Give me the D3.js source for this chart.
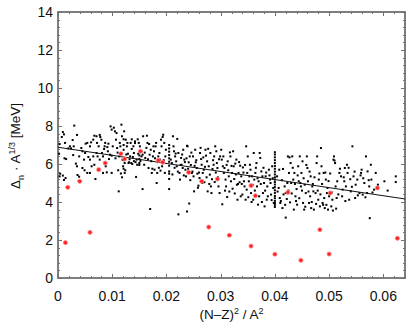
<!DOCTYPE html>
<html><head><meta charset="utf-8">
<script src="https://cdn.jsdelivr.net/npm/d3@7"></script>
<style>body{margin:0;background:#fff}svg{display:block}text{font-family:"Liberation Sans",Arial,sans-serif}</style>
</head><body><svg id="c" width="415" height="324"></svg>
<script>
const xTicks=[0,0.01,0.02,0.03,0.04,0.05,0.06];
const xTickLabels=["0","0.01","0.02","0.03","0.04","0.05","0.06"];
const yTicks=[0,2,4,6,8,10,12,14];
const yTickLabels=["0","2","4","6","8","10","12","14"];
const fitX=[0,0.064];
const fitY=[6.88,4.16];
const redStars=[[0.00136,1.86],[0.0018,4.77],[0.004,5.09],[0.0059,2.4],[0.0075,5.7],[0.0087,6.05],[0.0116,6.54],[0.0123,6.26],[0.0152,6.67],[0.0185,6.19],[0.0193,6.09],[0.0241,5.56],[0.0265,5.09],[0.0278,2.68],[0.0294,5.21],[0.0316,2.25],[0.0356,4.86],[0.0356,1.68],[0.0364,4.33],[0.04,1.25],[0.0424,4.51],[0.0448,0.93],[0.0483,2.54],[0.05,1.26],[0.0502,4.47],[0.0589,4.74],[0.0626,2.09]];
const nucleiA=[[0.0002,6.54],[0.0003,7.05],[0.0007,7.42],[0.0009,7.68],[0.0011,7.56],[0.0013,7.11],[0.0004,5.49],[0.0003,5.35],[0.0009,5.39],[0.0011,5.16],[0.0014,5.26],[0.0015,6.26],[0.0012,6.30],[0.0019,6.82],[0.0022,6.93],[0.0024,6.82],[0.0027,7.26],[0.0030,8.02],[0.0029,6.93],[0.0028,6.47],[0.0033,6.02],[0.0035,5.88],[0.0036,5.42],[0.0039,5.33],[0.0035,7.53],[0.0039,6.40],[0.0043,6.84],[0.0045,6.67],[0.0048,6.23],[0.0049,5.67],[0.0051,7.07],[0.0054,7.11],[0.0056,6.37],[0.0059,6.93],[0.0061,7.14],[0.0062,5.88],[0.0065,7.28],[0.0067,7.49],[0.0069,5.21],[0.0071,7.46],[0.0072,7.11],[0.0073,6.40],[0.0075,6.93],[0.0077,7.53],[0.0078,7.42],[0.0080,7.28],[0.0081,6.58],[0.0083,6.40],[0.0085,6.79],[0.0086,6.93],[0.0087,7.11],[0.0088,5.88],[0.0090,5.56],[0.0091,6.89],[0.0092,6.67],[0.0093,7.07],[0.0094,6.26],[0.0096,6.49],[0.0097,7.98],[0.0099,7.81],[0.0099,5.53],[0.0101,6.93],[0.0099,6.44],[0.0071,6.58],[0.0054,5.53],[0.0059,6.23],[0.0065,6.40],[0.0045,5.79],[0.0050,6.58],[0.0077,6.23],[0.0083,5.53],[0.0059,5.53],[0.0067,5.96]];
const nucleiB=[[0.0103,7.91],[0.0105,7.72],[0.0107,7.28],[0.0108,7.63],[0.0109,6.84],[0.0111,5.67],[0.0112,4.56],[0.0113,6.40],[0.0114,7.11],[0.0115,6.93],[0.0117,8.07],[0.0118,7.46],[0.0119,6.23],[0.0120,5.88],[0.0122,7.72],[0.0123,5.53],[0.0124,5.67],[0.0125,7.28],[0.0127,6.93],[0.0128,7.11],[0.0129,6.54],[0.0130,6.05],[0.0131,6.09],[0.0133,6.40],[0.0134,7.11],[0.0135,6.05],[0.0136,6.79],[0.0138,6.37],[0.0139,6.93],[0.0140,6.58],[0.0142,7.19],[0.0144,5.32],[0.0145,6.23],[0.0146,5.96],[0.0148,6.54],[0.0149,7.11],[0.0150,6.26],[0.0151,6.93],[0.0152,6.16],[0.0154,6.40],[0.0154,6.67],[0.0156,6.49],[0.0157,7.46],[0.0156,4.68],[0.0159,5.96],[0.0161,6.32],[0.0164,7.49],[0.0165,7.11],[0.0167,5.79],[0.0169,6.49],[0.0170,3.63],[0.0171,6.75],[0.0173,5.53],[0.0175,6.40],[0.0176,6.93],[0.0177,6.67],[0.0178,5.70],[0.0180,6.93],[0.0181,7.11],[0.0182,5.00],[0.0183,5.53],[0.0185,6.40],[0.0187,6.58],[0.0188,6.23],[0.0190,7.28],[0.0191,6.93],[0.0192,5.88],[0.0193,7.42],[0.0194,7.54],[0.0196,7.11],[0.0197,5.53],[0.0198,6.40],[0.0199,6.75],[0.0121,7.30],[0.0121,7.0],[0.0121,6.75],[0.0121,6.2],[0.0121,5.75],[0.0123,6.05],[0.0150,6.45],[0.0150,6.05],[0.0150,5.95],[0.0143,6.10],[0.0140,6.15],[0.0137,6.0],[0.0132,6.25],[0.0126,6.5],[0.0160,6.6],[0.0163,6.85],[0.0166,6.25],[0.0168,7.05],[0.0172,6.15],[0.0174,5.75],[0.0179,6.3],[0.0184,6.1],[0.0186,5.8],[0.0189,5.65],[0.0195,6.2],[0.0110,6.6],[0.0106,6.3],[0.0116,5.5],[0.0118,5.3],[0.0147,7.3],[0.0142,7.1],[0.0136,7.3],[0.0205,7.00],[0.0205,6.82],[0.0205,6.65],[0.0205,6.47],[0.0205,6.30],[0.0205,6.12],[0.0205,5.91],[0.0205,5.61],[0.0205,5.49],[0.0205,5.21],[0.0205,4.68]];
const nucleiC=[[0.0208,6.23],[0.0210,6.05],[0.0212,7.46],[0.0213,6.93],[0.0214,6.67],[0.0216,6.40],[0.0218,6.14],[0.0219,5.88],[0.0220,7.32],[0.0222,6.58],[0.0224,5.53],[0.0225,5.18],[0.0227,6.32],[0.0228,5.96],[0.0230,5.79],[0.0231,6.75],[0.0233,6.23],[0.0235,5.70],[0.0236,5.35],[0.0238,6.96],[0.0239,6.93],[0.0241,6.09],[0.0243,6.40],[0.0245,5.95],[0.0247,5.53],[0.0249,6.40],[0.0250,5.35],[0.0251,4.56],[0.0253,6.75],[0.0254,6.09],[0.0256,5.79],[0.0257,5.49],[0.0259,4.86],[0.0261,5.26],[0.0262,6.58],[0.0264,6.26],[0.0265,5.96],[0.0267,5.53],[0.0269,5.70],[0.0270,5.04],[0.0272,6.75],[0.0273,6.44],[0.0275,6.14],[0.0276,4.56],[0.0278,5.88],[0.0280,5.44],[0.0281,6.58],[0.0282,4.82],[0.0283,4.47],[0.0285,5.74],[0.0287,5.96],[0.0288,6.40],[0.0290,6.93],[0.0292,6.67],[0.0293,6.05],[0.0294,5.79],[0.0296,4.82],[0.0298,4.47],[0.0299,6.40],[0.0222,3.35],[0.0238,3.50],[0.0242,3.92],[0.0211,5.45],[0.0215,5.80],[0.0217,6.55],[0.0221,5.60],[0.0226,5.95],[0.0229,6.50],[0.0232,5.40],[0.0234,6.10],[0.0237,6.30],[0.0240,5.75],[0.0244,5.15],[0.0246,6.60],[0.0248,5.60],[0.0252,5.90],[0.0255,6.20],[0.0258,4.75],[0.0260,5.55],[0.0263,6.85],[0.0266,5.00],[0.0268,6.35],[0.0271,5.85],[0.0274,5.30],[0.0277,6.80],[0.0279,4.95],[0.0284,5.20],[0.0286,6.20],[0.0289,5.05],[0.0291,5.55],[0.0295,5.30],[0.0297,6.25]];
const nucleiD=[[0.0301,6.75],[0.0302,6.23],[0.0304,5.88],[0.0306,5.53],[0.0307,5.79],[0.0309,5.18],[0.0310,4.82],[0.0312,4.26],[0.0313,6.14],[0.0314,5.67],[0.0315,5.35],[0.0317,6.61],[0.0318,6.40],[0.0319,5.09],[0.0321,5.53],[0.0323,6.67],[0.0324,5.88],[0.0325,5.21],[0.0327,6.02],[0.0329,6.23],[0.0330,4.91],[0.0331,4.12],[0.0333,5.53],[0.0335,5.04],[0.0336,5.91],[0.0338,5.35],[0.0340,4.39],[0.0341,5.82],[0.0343,5.09],[0.0344,4.82],[0.0346,4.12],[0.0347,6.93],[0.0349,5.53],[0.0350,6.40],[0.0352,5.09],[0.0354,5.96],[0.0355,5.70],[0.0356,4.47],[0.0358,5.35],[0.0360,4.12],[0.0361,6.58],[0.0362,5.18],[0.0364,5.53],[0.0366,6.05],[0.0367,4.82],[0.0369,3.86],[0.0370,5.09],[0.0372,6.58],[0.0373,6.32],[0.0375,5.61],[0.0377,5.35],[0.0378,4.47],[0.0380,5.00],[0.0381,3.77],[0.0383,5.35],[0.0385,4.12],[0.0386,4.82],[0.0389,5.70],[0.0391,5.18],[0.0393,4.39],[0.0395,5.88],[0.0397,4.74],[0.0303,3.88],[0.0305,6.40],[0.0308,4.60],[0.0311,5.95],[0.0316,4.55],[0.0320,5.90],[0.0322,4.70],[0.0326,4.45],[0.0328,5.45],[0.0332,4.95],[0.0334,6.10],[0.0337,4.30],[0.0339,4.95],[0.0342,5.55],[0.0345,5.95],[0.0348,4.65],[0.0351,4.25],[0.0353,5.35],[0.0357,4.00],[0.0359,4.90],[0.0363,4.60],[0.0365,5.80],[0.0368,5.25],[0.0371,4.30],[0.0374,4.95],[0.0376,4.00],[0.0379,5.80],[0.0382,4.60],[0.0384,5.55],[0.0387,4.30],[0.0390,5.40],[0.0392,5.00],[0.0394,4.10],[0.0396,5.25],[0.0398,3.95],[0.0400,6.62],[0.0400,6.50],[0.0400,6.35],[0.0400,6.20],[0.0400,6.05],[0.0400,5.90],[0.0400,5.75],[0.0400,5.60],[0.0400,5.45],[0.0400,5.30],[0.0400,5.18],[0.0400,5.05],[0.0400,4.92],[0.0400,4.78],[0.0400,4.62],[0.0400,4.48],[0.0400,4.32],[0.0400,4.20],[0.0400,4.06],[0.0400,3.95],[0.0400,3.85],[0.0400,3.74]];
const nucleiE=[[0.0404,5.35],[0.0407,4.74],[0.0409,4.21],[0.0410,3.95],[0.0414,3.68],[0.0415,5.74],[0.0418,4.82],[0.0420,4.47],[0.0422,4.16],[0.0424,6.40],[0.0426,5.53],[0.0428,3.98],[0.0429,6.05],[0.0430,5.00],[0.0432,6.40],[0.0434,5.18],[0.0435,3.60],[0.0436,5.53],[0.0438,4.30],[0.0440,4.68],[0.0441,3.86],[0.0443,5.88],[0.0444,5.09],[0.0446,6.40],[0.0448,4.82],[0.0449,5.53],[0.0451,6.14],[0.0452,3.95],[0.0454,3.60],[0.0455,4.91],[0.0457,4.47],[0.0459,6.40],[0.0460,5.79],[0.0461,5.09],[0.0463,3.95],[0.0465,4.30],[0.0466,5.35],[0.0467,3.68],[0.0469,4.82],[0.0471,4.56],[0.0472,3.60],[0.0475,4.47],[0.0477,6.05],[0.0478,6.40],[0.0480,4.12],[0.0481,5.18],[0.0483,3.77],[0.0485,6.84],[0.0486,5.88],[0.0488,3.95],[0.0490,5.53],[0.0491,4.21],[0.0492,3.68],[0.0494,5.18],[0.0496,4.47],[0.0497,4.74],[0.0498,3.60],[0.0500,4.30],[0.0420,3.18],[0.0405,4.55],[0.0408,5.70],[0.0411,4.05],[0.0413,5.15],[0.0416,4.40],[0.0419,3.85],[0.0423,5.00],[0.0425,4.60],[0.0427,6.35],[0.0431,4.45],[0.0433,5.80],[0.0437,4.95],[0.0439,4.05],[0.0442,5.40],[0.0445,4.20],[0.0447,5.00],[0.0450,4.60],[0.0453,5.25],[0.0456,3.75],[0.0458,5.95],[0.0462,4.55],[0.0464,5.60],[0.0468,4.00],[0.0470,4.95],[0.0473,5.30],[0.0476,3.90],[0.0479,4.60],[0.0482,5.50],[0.0484,4.40],[0.0487,4.95],[0.0489,3.85],[0.0493,5.55],[0.0495,3.85],[0.0499,5.10]];
const nucleiF=[[0.0504,3.77],[0.0506,4.12],[0.0508,6.23],[0.0509,6.40],[0.0510,6.18],[0.0512,4.82],[0.0514,4.21],[0.0515,5.09],[0.0519,5.53],[0.0522,5.35],[0.0525,4.65],[0.0528,5.09],[0.0529,5.79],[0.0531,4.82],[0.0533,5.96],[0.0534,5.53],[0.0537,4.12],[0.0540,4.56],[0.0543,6.93],[0.0545,5.35],[0.0548,4.21],[0.0549,4.91],[0.0552,5.18],[0.0556,4.47],[0.0559,5.53],[0.0560,5.70],[0.0562,4.39],[0.0565,5.00],[0.0568,6.40],[0.0570,4.47],[0.0571,5.61],[0.0574,4.82],[0.0577,5.96],[0.0578,5.18],[0.0583,4.65],[0.0586,5.53],[0.0590,4.91],[0.0602,5.09],[0.0608,4.60],[0.0623,5.35],[0.0623,5.05],[0.0575,3.15],[0.0502,5.50],[0.0505,4.50],[0.0507,3.55],[0.0511,6.05],[0.0513,3.65],[0.0517,4.40],[0.0520,5.75],[0.0524,4.30],[0.0527,5.30],[0.0530,4.05],[0.0536,5.80],[0.0539,5.20],[0.0542,4.80],[0.0547,5.60],[0.0553,4.35],[0.0558,5.40],[0.0563,5.25],[0.0567,4.25],[0.0573,5.15],[0.0580,4.50]];
const nuclei=[].concat(nucleiA,nucleiB,nucleiC,nucleiD,nucleiE,nucleiF);

const svg=d3.select("#c");
const m={l:58,r:405,t:12,b:278};
const x=d3.scaleLinear().domain([0,0.064]).range([m.l,m.r]);
const y=d3.scaleLinear().domain([0,14]).range([m.b,m.t]);
const axisCol="#707070";

const xMinor=d3.range(0,0.0641,0.002);
const yMinor=d3.range(0,14.01,0.4);
const g=svg.append("g");
function tick(x1,y1,x2,y2){g.append("line").attr("x1",x1).attr("y1",y1).attr("x2",x2).attr("y2",y2).attr("stroke",axisCol).attr("stroke-width",1);}
xMinor.forEach(v=>{const px=Math.round(x(v))+0.5;tick(px,m.b,px,m.b-2);tick(px,m.t,px,m.t+2);});
xTicks.forEach(v=>{const px=Math.round(x(v))+0.5;tick(px,m.b,px,m.b-4);tick(px,m.t,px,m.t+4);});
yMinor.forEach(v=>{const py=Math.round(y(v))+0.5;tick(m.l,py,m.l+2,py);tick(m.r,py,m.r-2,py);});
yTicks.forEach(v=>{const py=Math.round(y(v))+0.5;tick(m.l,py,m.l+4,py);tick(m.r,py,m.r-4,py);});

svg.append("rect").attr("x",m.l).attr("y",m.t).attr("width",m.r-m.l).attr("height",m.b-m.t)
  .attr("fill","none").attr("stroke",axisCol).attr("stroke-width",1.8);

svg.selectAll(".xl").data(xTicks).enter().append("text")
  .attr("x",d=>x(d)).attr("y",301).attr("text-anchor","middle")
  .attr("font-size",14).attr("fill","#111").text((d,i)=>xTickLabels[i]);
svg.selectAll(".yl").data(yTicks).enter().append("text")
  .attr("x",m.l-5).attr("y",d=>y(d)+5).attr("text-anchor","end")
  .attr("font-size",14).attr("fill","#111").text((d,i)=>yTickLabels[i]);

const xt=svg.append("text").attr("x",x(0.032)).attr("y",319).attr("text-anchor","middle").attr("font-size",13.5).attr("fill","#111");
xt.append("tspan").text("(N\u2013Z)");
xt.append("tspan").attr("dy",-5).attr("font-size",9).text("2");
xt.append("tspan").attr("dy",5).text(" / A");
xt.append("tspan").attr("dy",-5).attr("font-size",9).text("2");
const yt=svg.append("text").attr("transform","translate(20,146) rotate(-90)").attr("text-anchor","middle").attr("font-size",13.5).attr("fill","#111");
yt.append("tspan").text("\u0394");
yt.append("tspan").attr("dy",4).attr("font-size",9).text("n");
yt.append("tspan").attr("dy",-4).text(" \u00b7 A");
yt.append("tspan").attr("dy",-5).attr("font-size",9).text("1/3");
yt.append("tspan").attr("dy",5).text(" [MeV]");

svg.append("g").selectAll("rect").data(nuclei).enter().append("rect")
  .attr("x",d=>x(d[0])-1).attr("y",d=>y(d[1])-1).attr("width",2).attr("height",2).attr("fill","#000");
svg.append("line").attr("x1",x(fitX[0])).attr("y1",y(fitY[0])).attr("x2",x(fitX[1])).attr("y2",y(fitY[1]))
  .attr("stroke","#111").attr("stroke-width",1);
svg.append("g").selectAll("circle").data(redStars).enter().append("circle")
  .attr("cx",d=>x(d[0])).attr("cy",d=>y(d[1])).attr("r",2.1).attr("fill","#ff2020").attr("stroke","#ff9090").attr("stroke-width",0.8);
</script></body></html>
